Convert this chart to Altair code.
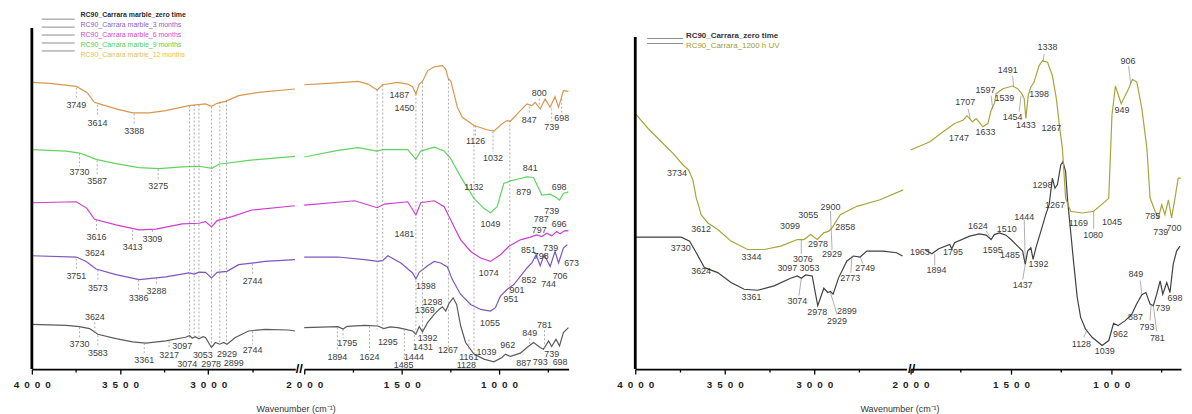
import altair as alt
import pandas as pd

# ======================= LEFT PANEL (RC90 on Carrara marble, 0-12 months) =======================
L_NAMES = ["RC90_Carrara marble_zero time", "RC90_Carrara marble_3 months",
           "RC90_Carrara marble_6 months", "RC90_Carrara marble_9 months",
           "RC90_Carrara marble_12 months"]
L_LINE_COLORS = ["#5b5b5b", "#7d56bf", "#cf3dcf", "#62d362", "#d9964f"]
L_TEXT_COLORS = ["#2b2b2b", "#8a63c4", "#d24ad2", "#4fcf4f", "#e3c24a"]

# 4000-2500 cm-1 segment
L0_HI_WN = [4000, 3805, 3730, 3673, 3626, 3523, 3429, 3354, 3241, 3130, 3106, 3090, 3074, 3053, 3030, 3016,
            2982, 2960, 2935, 2913, 2894, 2847, 2772, 2678, 2546, 2509]
L0_HI_V = [45, 44, 42.7, 40.7, 35, 30.7, 27.3, 26, 28.3, 32, 33.5, 31, 32.5, 30.5, 32.5, 31.7,
           21.7, 26.7, 25, 26.7, 25, 31.7, 38.3, 40, 39.3, 38.3]
L3_HI_WN = [4000, 3748, 3692, 3636, 3523, 3392, 3241, 3110, 3080, 3053, 3016, 2982, 2950, 2894, 2828, 2678, 2509]
L3_HI_V = [114, 112.7, 108.3, 100.7, 95, 90, 92.7, 96.7, 95.5, 97.5, 97.3, 91.7, 97.3, 98.3, 105, 108.3, 110]
L6_HI_WN = [4000, 3748, 3688, 3645, 3523, 3392, 3297, 3148, 3053, 3016, 2982, 2950, 2866, 2753, 2509]
L6_HI_V = [167.3, 168.3, 161.7, 150.7, 145, 140, 140.7, 146, 146.7, 148.3, 143, 149.3, 153.3, 160, 164.3]
L9_HI_WN = [4000, 3805, 3730, 3692, 3636, 3523, 3392, 3279, 3148, 3053, 2979, 2941, 2772, 2509]
L9_HI_V = [220.7, 219.3, 217.3, 215, 211, 206.7, 202.7, 201.7, 203.3, 204, 202, 206, 210, 214]
L12_HI_WN = [4000, 3899, 3748, 3688, 3645, 3617, 3523, 3429, 3335, 3241, 3110, 3016, 2982, 2950, 2903, 2828, 2715, 2509]
L12_HI_V = [288.3, 287.3, 284.3, 278.3, 268.3, 266.7, 261.7, 257.7, 257.7, 260, 265, 266.7, 264.3, 267.3, 269.3, 275, 278.3, 281.7]

# 2000-650 cm-1 segment
L0_LO_WN = [2000, 1827, 1801, 1780, 1690, 1622, 1592, 1560, 1520, 1478, 1444, 1427, 1410, 1393, 1367, 1333, 1308, 1291,
            1274, 1257, 1236, 1218, 1197, 1172, 1129, 1078, 1027, 985, 968, 942, 891, 857, 823, 789, 772, 746, 730,
            708, 690, 670, 644]
L0_LO_V = [41.7, 42.7, 40.3, 43, 44, 43.3, 40.7, 42.5, 41.7, 40, 38.3, 35, 42.7, 37.5, 46.7, 55, 60, 62.7,
           58.3, 66, 71.7, 65, 43.3, 26.7, 15, 10, 7.3, 11.7, 15, 12.7, 16, 21.7, 26.7, 21.7, 20, 28.3, 22.7,
           30, 23.3, 36.7, 41.7]
L3_LO_WN = [2000, 1827, 1690, 1622, 1597, 1571, 1504, 1444, 1427, 1410, 1367, 1333, 1300, 1265, 1240, 1197, 1146,
            1095, 1044, 1019, 993, 959, 925, 891, 857, 832, 810, 789, 769, 738, 713, 695, 670, 650]
L3_LO_V = [112.7, 112.7, 110, 108.3, 109.3, 114, 106.7, 96.7, 90.7, 97.3, 104, 108.3, 106.7, 102.7, 90, 75, 65,
           60, 58.3, 61.7, 73.3, 80, 85, 93.3, 101.7, 106.7, 115, 104, 115, 103.3, 118.3, 106.7, 121.7, 125]
L6_LO_WN = [2000, 1741, 1626, 1588, 1469, 1427, 1402, 1333, 1282, 1248, 1223, 1197, 1146, 1095, 1044, 993, 951,
            891, 840, 806, 781, 755, 730, 704, 687, 662, 644]
L6_LO_V = [165, 169.3, 162.3, 166, 168.3, 155, 167.3, 169.3, 163.3, 150, 140, 130, 118.3, 111.7, 108.3, 115, 123.3,
           130, 132.7, 135, 133.3, 136.7, 134, 138.3, 136, 139.3, 139]
L9_LO_WN = [2000, 1827, 1724, 1626, 1597, 1469, 1427, 1402, 1333, 1282, 1248, 1197, 1129, 1078, 1044, 1010, 976,
            942, 891, 857, 823, 781, 738, 713, 690, 670, 644]
L9_LO_V = [213.3, 220, 222.7, 219.3, 220.7, 220.7, 211, 219.3, 223.3, 219.3, 211.7, 193.3, 171.7, 161.7, 157.3,
           163.3, 186.7, 189.3, 191.7, 193.3, 192.7, 175, 176, 173.3, 170, 176.7, 178.3]
L12_LO_WN = [2000, 1878, 1724, 1673, 1626, 1597, 1520, 1469, 1444, 1427, 1410, 1393, 1367, 1333, 1291, 1274, 1260,
             1248, 1214, 1189, 1129, 1061, 1027, 985, 959, 942, 891, 857, 832, 815, 789, 764, 738, 713, 695, 670, 644]
L12_LO_V = [286, 287.3, 289.3, 286.7, 280.7, 286, 288.3, 286.7, 284, 276.7, 286.7, 289.3, 300, 304, 305.3, 301.7,
            291.7, 290, 263.3, 253.3, 245, 240.7, 239.3, 246.7, 250, 249.3, 260, 266.7, 265, 268.3, 261.7, 271.7,
            263.3, 274, 263.3, 280, 279.3]

L_HI_LAB_TEXT = ["3749", "3614", "3388", "3730", "3587", "3275", "3616", "3413", "3309",
                 "3624", "3751", "3573", "3386", "3288", "2744",
                 "3624", "3730", "3583", "3361", "3217", "3097", "3074", "3053", "2978", "2929", "2899", "2744"]
L_HI_LAB_WN = [3748, 3628, 3420, 3730, 3630, 3284, 3634, 3429, 3317,
               3643, 3748, 3626, 3395, 3294, 2749,
               3643, 3730, 3626, 3363, 3222, 3148, 3119, 3031, 2984, 2894, 2856, 2749]
L_HI_LAB_V = [265.7, 248, 239.7, 198.3, 189, 184, 133.3, 122.3, 130.7,
              116.7, 94, 81.7, 71.7, 79, 88.3,
              52.3, 25, 15.7, 9, 14, 23.3, 5, 14, 5, 15, 5.7, 19.3]

L_LO_LAB_TEXT = ["1487", "1450", "1126", "1032", "800", "847", "739", "698",
                 "1132", "1049", "841", "879", "698", "739", "787",
                 "1481", "1074", "851", "797", "739", "696",
                 "1398", "1055", "951", "901", "852", "798", "744", "706", "673",
                 "1795", "1894", "1624", "1295", "1485", "1444", "1431", "1392", "1369", "1298", "1267", "1161",
                 "1128", "1039", "962", "887", "849", "781", "793", "739", "698"]
L_LO_LAB_WN = [1512, 1486, 1121, 1031, 794, 845, 730, 679,
               1129, 1044, 840, 874, 692, 730, 784,
               1486, 1053, 849, 794, 735, 692,
               1376, 1047, 939, 908, 847, 784, 746, 687, 628,
               1779, 1830, 1665, 1571, 1490, 1437, 1391, 1367, 1381, 1342, 1262, 1155,
               1168, 1065, 956, 874, 843, 767, 789, 730, 687]
L_LO_LAB_V = [275.7, 262.3, 229, 212.3, 277.7, 250.7, 243.3, 252.3,
              183.3, 145.7, 202.3, 178.3, 183, 159, 151,
              135.7, 96.7, 120, 140, 121.7, 146,
              83.3, 46, 70, 80, 89.3, 114, 86, 93.3, 106.7,
              25.7, 12.3, 12.3, 27.3, 4.5, 12.5, 22.5, 31.5, 59, 67.3, 19.3, 12.3,
              4, 16.7, 24, 6, 36, 44, 7.3, 15.3, 6.7]

# long dashed guide lines
L_HI_VL_WN = [3106, 3080, 3053, 2982, 2935, 2897]
L_HI_VL_TOP = [265, 266, 266, 264, 269, 270]
L_HI_VL_BOT = [31, 31, 30, 22, 25, 25]
L_LO_VL_WN = [1626, 1597, 1427, 1393, 1260, 1129, 945]
L_LO_VL_TOP = [281, 286, 277, 289, 292, 245, 250]
L_LO_VL_BOT = [40, 40, 35, 35, 22, 15, 73]

# short dashed leaders from peak to label
L_HI_LD_WN = [3748, 3628, 3420, 3730, 3630, 3284, 3634, 3429, 3317, 3748, 3626, 3395, 3294, 2749,
              3643, 3730, 3626, 3363, 3222, 2749]
L_HI_LD_TOP = [283, 266, 257, 217, 210, 201, 150, 140, 140, 111, 100, 90, 92, 106, 47, 42, 34, 26, 28, 38]
L_HI_LD_BOT = [271, 254, 245, 204, 195, 190, 139, 128, 136, 100, 88, 78, 85, 94, 38, 31, 22, 15, 20, 25]
L_LO_LD_WN = [1121, 1031, 794, 845, 730, 679, 1801, 1830, 1665, 1486, 1435, 1155, 843, 767]
L_LO_LD_TOP = [245, 239, 272, 264, 262, 272, 40, 42, 43, 40, 38, 30, 31, 39]
L_LO_LD_BOT = [235, 218, 264, 256, 249, 258, 31, 18, 18, 10, 18, 18, 23, 21]

# ======================= RIGHT PANEL (zero time vs 1200 h UV) =======================
R_NAMES = ["RC90_Carrara_zero time", "RC90_Carrara_1200 h UV"]
R_LINE_COLORS = ["#404040", "#a6a63a"]
R_TEXT_COLORS = ["#333333", "#9c9c3a"]

R0_HI_WN = [4000, 3835, 3743, 3696, 3659, 3613, 3539, 3465, 3391, 3317, 3224, 3132, 3094, 3072, 3048, 3011, 2980,
            2946, 2924, 2909, 2894, 2863, 2817, 2780, 2743, 2706, 2613, 2539, 2506]
R0_HI_V = [132.7, 132.7, 132.7, 128.7, 117, 102, 97, 87, 80.3, 79.3, 83.7, 91.3, 93.7, 91.3, 94.7, 93.7, 63.7,
           81.3, 77, 78, 75.3, 92, 108.7, 113.7, 112.7, 118.7, 118.7, 117, 113.7]
RUV_HI_WN = [4000, 3928, 3854, 3789, 3733, 3702, 3678, 3659, 3650, 3632, 3594, 3539, 3465, 3372, 3279, 3187, 3094,
             3057, 3020, 2983, 2946, 2918, 2900, 2854, 2761, 2632, 2502]
RUV_HI_V = [257, 242, 228.7, 217, 205.3, 200.3, 190.3, 172, 167, 155.3, 147, 140.3, 128.7, 120.3, 120.3, 123.7,
            130.3, 130.3, 135.3, 130.3, 137, 138.7, 142, 155.3, 163.7, 170.3, 180.3]

R0_LO_WN = [1930, 1894, 1860, 1805, 1795, 1781, 1706, 1657, 1624, 1599, 1583, 1558, 1525, 1500, 1467,
            1442, 1429, 1417, 1401, 1390, 1376, 1351, 1327, 1310, 1294, 1281, 1269, 1252, 1241, 1228, 1219, 1203,
            1187, 1170, 1153, 1129, 1096, 1046, 1013, 989, 967, 931, 898, 873, 848, 828, 807, 791, 774, 757, 744,
            724, 708, 692, 675, 658]
R0_LO_V = [120.3, 116, 121, 125.3, 121, 127, 133.7, 136, 134.7, 130.3, 135.3, 137, 134.7, 130.3, 123.7,
           118.7, 105.3, 118.7, 122, 110.3, 122, 138.7, 155.3, 165.3, 192, 182, 185.3, 205.3, 208.7, 198.7, 172,
           138.7, 105.3, 72, 52, 40.3, 32, 23.7, 28.7, 46, 43.7, 48.7, 55.3, 66, 74.7, 77, 65.3, 63.7, 75.3, 88.7,
           75.3, 87, 77, 105.3, 118.7, 123.7]
RUV_LO_WN = [2000, 1904, 1838, 1781, 1739, 1719, 1706, 1693, 1673, 1640, 1615, 1599, 1583, 1574, 1541, 1492, 1467,
             1446, 1434, 1426, 1414, 1401, 1385, 1360, 1343, 1318, 1294, 1274, 1261, 1244, 1228, 1203, 1145, 1088,
             1030, 1013, 997, 980, 951, 914, 895, 873, 848, 823, 807, 782, 766, 749, 733, 716, 700, 683, 667, 654]
RUV_LO_V = [220.3, 228.7, 238.7, 247, 250.3, 254.7, 252, 248.7, 252, 243.7, 247, 260.3, 267, 277, 282, 284.7, 282,
            277, 272, 252, 275.3, 283.7, 288.7, 305.3, 310.3, 308.7, 295.3, 272, 248.7, 222, 172, 158.7, 157, 158.7,
            168.7, 172, 255.3, 284.7, 267, 282, 291.3, 288.7, 262, 222, 172, 158.7, 152, 165.3, 155.3, 170.3, 152,
            172, 192, 192]

R_HI_LAB_TEXT = ["3734", "3612", "3344", "3099", "3055", "2900", "2858", "2978", "2929", "3076",
                 "3730", "3624", "3361", "3097", "3053", "3074", "2978", "2929", "2899", "2773", "2749"]
R_HI_LAB_WN = [3767, 3632, 3350, 3135, 3033, 2909, 2826, 2979, 2900, 3063,
               3746, 3632, 3350, 3150, 3026, 3094, 2983, 2872, 2817, 2798, 2715]
R_HI_LAB_V = [197.7, 141, 112.7, 143.7, 154.7, 162.7, 143, 125.3, 115.3, 110.3,
              122, 98.7, 72, 102, 101.3, 68, 57.7, 48, 58, 92, 101.3]

R_LO_LAB_TEXT = ["1707", "1747", "1633", "1597", "1539", "1491", "1454", "1433", "1398", "1338", "1267", "949", "906",
                 "1169", "1080", "1045", "785", "739", "700",
                 "1963", "1894", "1795", "1624", "1510", "1595", "1485", "1444", "1392", "1437", "1298", "1267",
                 "1128", "1039", "962", "887", "849", "793", "781", "739", "698"]
R_LO_LAB_WN = [1728, 1759, 1627, 1627, 1533, 1516, 1492, 1426, 1360, 1318, 1299, 947, 917,
               1165, 1091, 997, 794, 754, 688,
               1954, 1871, 1789, 1665, 1521, 1591, 1505, 1434, 1363, 1442, 1343, 1281,
               1149, 1033, 955, 880, 878, 823, 771, 744, 683]
R_LO_LAB_V = [269, 232, 238, 281, 273, 301, 254, 245.3, 277, 323.7, 242, 261, 309.7,
              147, 135, 147.7, 154.3, 137.7, 142.3,
              118, 99.3, 118, 143.7, 141.3, 119.7, 114.3, 153, 106, 84.7, 185, 164.7,
              25.3, 18, 35.3, 52, 95.3, 42, 31.5, 61.3, 71]

R_HI_LD_WN1 = [3072, 2909, 3072, 2909, 2789, 2743]
R_HI_LD_V1 = [130, 159, 91, 77, 114, 113]
R_HI_LD_WN2 = [3072, 2900, 3085, 2872, 2795, 2728]
R_HI_LD_V2 = [116, 120, 74, 55, 97, 106]
R_LO_LD_WN1 = [1880, 1434, 1429, 1624, 1120, 1088, 856, 802, 791, 914, 1335, 1492, 1714, 1459, 1599]
R_LO_LD_V1 = [116, 150, 105, 139, 40, 158.7, 89, 65, 64, 305, 317, 295, 262, 259, 275]
R_LO_LD_WN2 = [1880, 1429, 1442, 1604, 1137, 1088, 848, 807, 774, 904, 1340, 1487, 1703, 1450, 1591]
R_LO_LD_V2 = [104, 107, 90, 133, 32, 141, 75, 49, 38, 287, 309, 284, 252, 275, 262]

# y-axis line extents (in the same arbitrary absorbance units)
L_YAXIS = [0, 343]
R_YAXIS = [0, 334]

PLOT_H = 360
Y_DOMAIN = [0, 360]


# ======================= helpers =======================
def curves(names, wn_lists, v_lists):
    rows = []
    for name, wns, vs in zip(names, wn_lists, v_lists):
        assert len(wns) == len(vs), name
        rows += [{"series": name, "wn": w, "v": v} for w, v in zip(wns, vs)]
    return pd.DataFrame(rows)


def wn_axis(vals):
    s = "toString(datum.value)"
    sp = "\u2002"
    expr = (f"datum.value % 500 == 0 ? substring({s},0,1) + '{sp}' + substring({s},1,2) + '{sp}' + "
            f"substring({s},2,3) + '{sp}' + substring({s},3,4) : ''")
    return alt.Axis(values=vals, title=None, grid=False, labelFlush=False, labelOverlap=False,
                    labelExpr=expr,
                    tickSize={"condition": {"test": "datum.value % 500 == 0", "value": 5}, "value": 3},
                    tickColor="#000000", tickWidth=1.3, domainColor="#000000", domainWidth=1.8,
                    labelFont="Liberation Sans", labelFontSize=10, labelFontWeight="bold",
                    labelColor="#1e1e1e", labelPadding=6)


def xq(field, dom, vals):
    return alt.X(f"{field}:Q", scale=alt.Scale(domain=dom, reverse=True, nice=False, zero=False),
                 axis=wn_axis(vals))


def yq(field):
    return alt.Y(f"{field}:Q", scale=alt.Scale(domain=Y_DOMAIN, nice=False, zero=False), axis=None)


def segment(df, names, colors, dom, vals, width, labels, vlines=None, dleaders=None, sleaders=None,
            yaxis=None, legend=None, break_dx=None):
    layers = [alt.Chart(df).mark_line(strokeWidth=1.2).encode(
        x=xq("wn", dom, vals), y=yq("v"),
        color=alt.Color("series:N", scale=alt.Scale(domain=names, range=colors), legend=None),
        detail="series:N")]
    if vlines is not None:
        layers.append(alt.Chart(pd.DataFrame({"wn": vlines[0], "v1": vlines[1], "v2": vlines[2]}))
                      .mark_rule(strokeDash=[2, 2], color="#8a8a8a", strokeWidth=0.7)
                      .encode(x=xq("wn", dom, vals), y=yq("v1"), y2="v2:Q"))
    if dleaders is not None:
        layers.append(alt.Chart(pd.DataFrame({"wn": dleaders[0], "v1": dleaders[1], "v2": dleaders[2]}))
                      .mark_rule(strokeDash=[2, 2], color="#8a8a8a", strokeWidth=0.7)
                      .encode(x=xq("wn", dom, vals), y=yq("v1"), y2="v2:Q"))
    if sleaders is not None:
        layers.append(alt.Chart(pd.DataFrame({"wn": sleaders[0], "v1": sleaders[1],
                                              "wn2": sleaders[2], "v2": sleaders[3]}))
                      .mark_rule(color="#7a7a7a", strokeWidth=0.6)
                      .encode(x=xq("wn", dom, vals), x2="wn2:Q", y=yq("v1"), y2="v2:Q"))
    layers.append(alt.Chart(pd.DataFrame({"t": labels[0], "wn": labels[1], "v": labels[2]}))
                  .mark_text(font="Liberation Sans", fontSize=9, color="#3c3c3c")
                  .encode(x=xq("wn", dom, vals), y=yq("v"), text="t:N"))
    if yaxis is not None:
        layers.append(alt.Chart(pd.DataFrame({"wn": [dom[1]], "v1": [yaxis[0]], "v2": [yaxis[1]]}))
                      .mark_rule(color="#000000", strokeWidth=2.8)
                      .encode(x=xq("wn", dom, vals), y=yq("v1"), y2="v2:Q"))
    if break_dx is not None:
        layers.append(alt.Chart(pd.DataFrame({"t": ["//"]}))
                      .mark_text(font="Liberation Sans", fontSize=13, fontWeight="bold", color="#000000")
                      .encode(x=alt.value(break_dx), y=alt.value(PLOT_H), text="t:N"))
    main = alt.layer(*layers)
    if legend is None:
        return main.properties(width=width, height=PLOT_H)
    lnames, tcolors, lx, yrange, fsize = legend
    ldf = pd.DataFrame({"name": lnames, "tc": tcolors, "i": list(range(len(lnames)))})
    ly = alt.Y("name:N", sort=lnames, scale=alt.Scale(domain=lnames, range=yrange, padding=0), axis=None)
    leg_rule = alt.Chart(ldf).mark_rule(color="#8c8c8c", strokeWidth=1).encode(
        x=alt.value(lx[0]), x2=alt.value(lx[1]), y=ly)
    leg_bold = alt.Chart(ldf).transform_filter("datum.i == 0").mark_text(
        align="left", baseline="middle", fontSize=fsize, font="Liberation Sans", fontWeight="bold").encode(
        x=alt.value(lx[2]), y=ly, text="name:N", color=alt.Color("tc:N", scale=None, legend=None))
    leg_norm = alt.Chart(ldf).transform_filter("datum.i > 0").mark_text(
        align="left", baseline="middle", fontSize=fsize, font="Liberation Sans").encode(
        x=alt.value(lx[2]), y=ly, text="name:N", color=alt.Color("tc:N", scale=None, legend=None))
    return alt.layer(main, leg_rule, leg_bold, leg_norm).resolve_scale(
        y="independent", color="independent").properties(width=width, height=PLOT_H)


HI_VALS = [4000, 3750, 3500, 3250, 3000, 2750]
LO_VALS = [2000, 1750, 1500, 1250, 1000, 750]

left_hi = segment(
    curves(L_NAMES, [L0_HI_WN, L3_HI_WN, L6_HI_WN, L9_HI_WN, L12_HI_WN],
           [L0_HI_V, L3_HI_V, L6_HI_V, L9_HI_V, L12_HI_V]),
    L_NAMES, L_LINE_COLORS, [2507, 4000], HI_VALS, 265,
    (L_HI_LAB_TEXT, L_HI_LAB_WN, L_HI_LAB_V),
    vlines=(L_HI_VL_WN, L_HI_VL_TOP, L_HI_VL_BOT),
    dleaders=(L_HI_LD_WN, L_HI_LD_TOP, L_HI_LD_BOT),
    yaxis=L_YAXIS,
    legend=(L_NAMES, L_TEXT_COLORS, (10, 43, 49), [4, 44], 7))

left_lo = segment(
    curves(L_NAMES, [L0_LO_WN, L3_LO_WN, L6_LO_WN, L9_LO_WN, L12_LO_WN],
           [L0_LO_V, L3_LO_V, L6_LO_V, L9_LO_V, L12_LO_V]),
    L_NAMES, L_LINE_COLORS, [643, 2000], LO_VALS, 266,
    (L_LO_LAB_TEXT, L_LO_LAB_WN, L_LO_LAB_V),
    vlines=(L_LO_VL_WN, L_LO_VL_TOP, L_LO_VL_BOT),
    dleaders=(L_LO_LD_WN, L_LO_LD_TOP, L_LO_LD_BOT),
    break_dx=-5)

right_hi = segment(
    curves(R_NAMES, [R0_HI_WN, RUV_HI_WN], [R0_HI_V, RUV_HI_V]),
    R_NAMES, R_LINE_COLORS, [2483, 4000], HI_VALS, 273,
    (R_HI_LAB_TEXT, R_HI_LAB_WN, R_HI_LAB_V),
    sleaders=(R_HI_LD_WN1, R_HI_LD_V1, R_HI_LD_WN2, R_HI_LD_V2),
    yaxis=R_YAXIS,
    legend=(R_NAMES, R_TEXT_COLORS, (12, 48, 51), [25, 35], 8))

right_lo = segment(
    curves(R_NAMES, [R0_LO_WN, RUV_LO_WN], [R0_LO_V, RUV_LO_V]),
    R_NAMES, R_LINE_COLORS, [653, 2000], LO_VALS, 272,
    (R_LO_LAB_TEXT, R_LO_LAB_WN, R_LO_LAB_V),
    sleaders=(R_LO_LD_WN1, R_LO_LD_V1, R_LO_LD_WN2, R_LO_LD_V2),
    break_dx=1)

X_TITLE = "Wavenumber (cm\u207b\u00b9)"


def panel_title():
    return alt.TitleParams(X_TITLE, orient="bottom", anchor="middle", fontSize=9, fontWeight="normal",
                           font="Liberation Sans", color="#333333", offset=15)


left_panel = alt.hconcat(left_hi, left_lo, spacing=9, bounds="flush", title=panel_title()).resolve_scale(
    color="independent")
right_panel = alt.hconcat(right_hi, right_lo, spacing=4, bounds="flush", title=panel_title()).resolve_scale(
    color="independent")

chart = alt.hconcat(left_panel, right_panel, spacing=37).resolve_scale(color="independent").properties(
    padding={"left": 5, "top": 2, "right": 0, "bottom": 0}
).configure_view(stroke=None)

chart.save("out.html", embed_options={"renderer": "svg", "actions": False})
